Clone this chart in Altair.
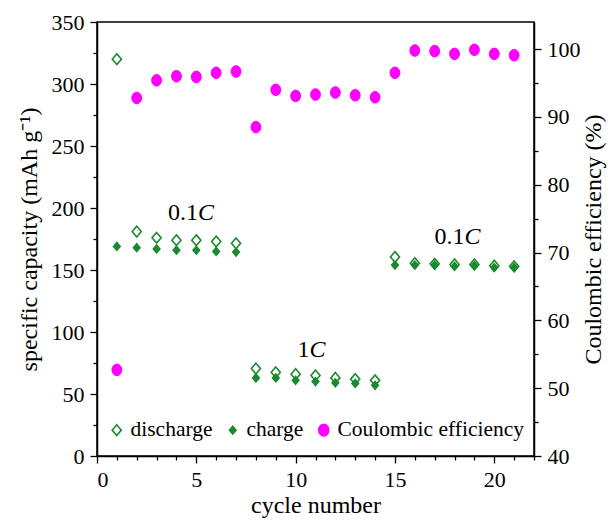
import altair as alt
import pandas as pd

# ---------------- data ----------------
cycle = list(range(1, 22))
discharge = [320, 181, 176, 174, 174, 173, 171.5, 70.5, 67.5, 66, 65, 63, 62, 61,
             160.5, 155.5, 155, 154.5, 154.5, 153.5, 153]
charge = [169, 168, 167, 166, 166, 165, 164.5, 63, 63, 61, 60, 59, 58.5, 57,
          154, 154, 154, 153, 153.5, 152, 152]
coulombic = [52.7, 92.8, 95.4, 96.0, 95.9, 96.5, 96.7, 88.5, 94.0, 93.1, 93.3,
             93.6, 93.2, 92.9, 96.5, 99.8, 99.7, 99.3, 99.9, 99.3, 99.1]
series_names = ["discharge", "charge", "Coulombic efficiency"]

annot_x = [5.08, 10.7, 18.5]
annot_y = [190, 80, 171]
annot_num = ["0.1", "1", "0.1"]
annot_unit = ["C", "C", "C"]

GREEN = "#1a8a2e"
MAGENTA = "#ff00ff"
FONT = "Times New Roman, Liberation Serif, serif"

DIAMOND = "M0,-1L0.85,0L0,1L-0.85,0Z"
ELLIPSE = ("M0,-1C0.4695,-1,0.85,-0.5523,0.85,0C0.85,0.5523,0.4695,1,0,1"
           "C-0.4695,1,-0.85,0.5523,-0.85,0C-0.85,-0.5523,-0.4695,-1,0,-1Z")

cap_rows = []
for c, v in zip(cycle, discharge):
    cap_rows.append({"cycle": c, "cap": v, "series": "discharge"})
for c, v in zip(cycle, charge):
    cap_rows.append({"cycle": c, "cap": v, "series": "charge"})
cap_df = pd.DataFrame(cap_rows)
ce_df = pd.DataFrame({"cycle": cycle, "ce": coulombic,
                      "series": ["Coulombic efficiency"] * len(cycle)})
ann_df = pd.DataFrame({"cycle": annot_x, "cap": annot_y,
                       "num": annot_num, "unit": annot_unit})

# ---------------- encodings ----------------
x_enc = alt.X(
    "cycle:Q",
    scale=alt.Scale(domain=[0, 22], nice=False, zero=False),
    axis=alt.Axis(
        title="cycle number",
        values=list(range(0, 23)),
        labelExpr="datum.value % 5 === 0 ? datum.label : ''",
        tickSize={"condition": {"test": "datum.value % 5 === 0", "value": 7}, "value": 4},
        labelPadding=6,
        titlePadding=3,
    ),
)

y_left = alt.Y(
    "cap:Q",
    scale=alt.Scale(domain=[0, 350], nice=False, zero=True),
    axis=alt.Axis(
        title="specific capacity (mAh g⁻¹)",
        values=list(range(0, 351, 25)),
        labelExpr="datum.value % 50 === 0 ? datum.label : ''",
        tickSize={"condition": {"test": "datum.value % 50 === 0", "value": 7}, "value": 4},
        labelPadding=6,
        titlePadding=10,
    ),
)

y_right = alt.Y(
    "ce:Q",
    scale=alt.Scale(domain=[40, 104], nice=False, zero=False),
    axis=alt.Axis(
        orient="right",
        title="Coulombic efficiency (%)",
        values=list(range(40, 101, 5)),
        labelExpr="datum.value % 10 === 0 ? datum.label : ''",
        tickSize={"condition": {"test": "datum.value % 10 === 0", "value": 7}, "value": 4},
        labelPadding=6,
        titlePadding=25,
        titleAngle=270,
    ),
)

legend = alt.Legend(
    title=None,
    orient="none",
    legendX=9,
    legendY=397,
    direction="horizontal",
    labelFont=FONT,
    labelFontSize=21.5,
    labelColor="black",
    labelLimit=0,
    labelOffset=3,
    columnPadding=9,
    symbolStrokeWidth=1.6,
)

shape_enc = alt.Shape("series:N", scale=alt.Scale(domain=series_names, range=[DIAMOND, DIAMOND, ELLIPSE]), legend=legend)
fill_enc = alt.Fill("series:N", scale=alt.Scale(domain=series_names, range=["transparent", GREEN, MAGENTA]), legend=legend)
stroke_enc = alt.Stroke("series:N", scale=alt.Scale(domain=series_names, range=[GREEN, GREEN, MAGENTA]), legend=legend)
size_enc = alt.Size("series:N", scale=alt.Scale(type="ordinal", domain=series_names, range=[115, 60, 135]), legend=legend)

cap_points = alt.Chart(cap_df).mark_point(filled=True, opacity=1, strokeWidth=1.6).encode(
    x=x_enc, y=y_left, shape=shape_enc, fill=fill_enc, stroke=stroke_enc, size=size_enc,
)

ann_num = alt.Chart(ann_df).mark_text(
    align="right", baseline="alphabetic", font=FONT, fontSize=24, color="black"
).encode(x=x_enc, y=y_left, text="num:N")

ann_unit = alt.Chart(ann_df).mark_text(
    align="left", baseline="alphabetic", font=FONT, fontSize=24, color="black", fontStyle="italic"
).encode(x=x_enc, y=y_left, text="unit:N")

left_group = alt.layer(cap_points, ann_num, ann_unit)

ce_points = alt.Chart(ce_df).mark_point(filled=True, opacity=1, strokeWidth=1).encode(
    x=x_enc, y=y_right, shape=shape_enc, fill=fill_enc, stroke=stroke_enc, size=size_enc,
)

chart = (
    alt.layer(left_group, ce_points)
    .resolve_scale(y="independent")
    .properties(
        width=437,
        height=434,
        autosize=alt.AutoSizeParams(type="none"),
        padding={"left": 97, "top": 22, "right": 80, "bottom": 66},
        background="white",
    )
    .configure_view(stroke="black", strokeWidth=1.5)
    .configure_axis(
        grid=False,
        domainColor="black",
        domainWidth=1.5,
        tickColor="black",
        tickWidth=1.3,
        labelFont=FONT,
        labelFontSize=22,
        labelColor="black",
        titleFont=FONT,
        titleFontSize=24,
        titleFontWeight="normal",
        titleColor="black",
    )
)

chart.save("out.html", embed_options={"renderer": "svg", "actions": False})
